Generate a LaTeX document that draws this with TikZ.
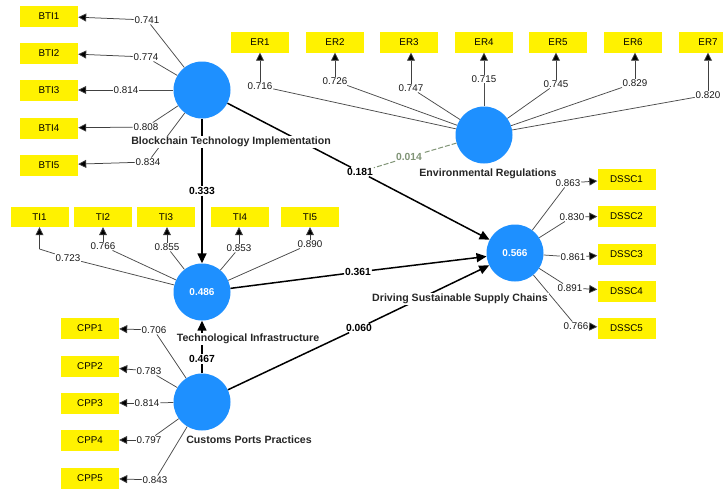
\documentclass[tikz,border=0pt]{standalone}
\usepackage{fontspec}
\setmainfont{Liberation Sans}
\usetikzlibrary{arrows.meta}
\definecolor{lvblue}{RGB}{30,144,255}
\definecolor{modgreen}{RGB}{128,148,118}
\begin{document}
\begin{tikzpicture}[x=1pt,y=-1pt,
 lv/.style={circle,fill=lvblue,minimum size=57pt,inner sep=0pt,font=\fontsize{10}{12}\selectfont\bfseries,text=white},
 ind/.style={fill=yellow,minimum width=58pt,minimum height=21pt,inner sep=0pt,font=\fontsize{9.8}{11}\selectfont},
 ld/.style={fill=white,inner sep=0.8pt,font=\fontsize{9.8}{11}\selectfont,text=black!90},
 pc/.style={fill=white,inner sep=0.8pt,font=\fontsize{10.3}{12}\selectfont\bfseries},
 lvname/.style={fill=white,inner sep=0.8pt,font=\fontsize{10.6}{12}\selectfont\bfseries,text=black!85},
 ll/.style={draw=black!70,line width=0.75pt},
 lla/.style={draw=black!75,line width=0.75pt,-{Triangle[length=8pt,width=8pt,fill=black]}},
 pl/.style={draw=black,line width=1.5pt},
 pla/.style={draw=black,line width=1.5pt,-{Triangle[length=10pt,width=9pt]}},
 ml/.style={draw=modgreen,line width=1pt,dash pattern=on 5pt off 2pt},
]
\useasboundingbox (0,0) rectangle (723,488);
\clip (0,0) rectangle (723,488);
\fill[white] (0,0) rectangle (723,488);

% latent variables
\node[lv] (bti) at (202,90) {};
\node[lv] (er) at (484,135) {};
\node[lv] (ti) at (202,292) {0.486};
\node[lv] (dssc) at (515,253) {0.566};
\node[lv] (cpp) at (202,402) {};

% BTI indicators
\node[ind] (bti1) at (49,16) {BTI1};
\node[ind] (bti2) at (49,53) {BTI2};
\node[ind] (bti3) at (49,90) {BTI3};
\node[ind] (bti4) at (49,128) {BTI4};
\node[ind] (bti5) at (49,165) {BTI5};
\node[ld] (lb1) at (147,20) {0.741};
\node[ld] (lb2) at (146,57) {0.774};
\node[ld] (lb3) at (126,90) {0.814};
\node[ld] (lb4) at (146,127) {0.808};
\node[ld] (lb5) at (148,162) {0.834};

% ER indicators
\node[ind] (er1) at (260,42) {ER1};
\node[ind] (er2) at (335,42) {ER2};
\node[ind] (er3) at (409,42) {ER3};
\node[ind] (er4) at (484,42) {ER4};
\node[ind] (er5) at (558,42) {ER5};
\node[ind] (er6) at (633,42) {ER6};
\node[ind] (er7) at (708,42) {ER7};
\node[ld] (le1) at (260,86) {0.716};
\node[ld] (le2) at (335,81) {0.726};
\node[ld] (le3) at (411,88) {0.747};
\node[ld] (le4) at (484,79) {0.715};
\node[ld] (le5) at (556,84) {0.745};
\node[ld] (le6) at (635,83) {0.829};
\node[ld] (le7) at (708,95) {0.820};

% TI indicators
\node[ind,minimum height=20pt] (ti1) at (39.5,217) {TI1};
\node[ind,minimum height=20pt] (ti2) at (103,217) {TI2};
\node[ind,minimum height=20pt] (ti3) at (166,217) {TI3};
\node[ind,minimum height=20pt] (ti4) at (240,217) {TI4};
\node[ind,minimum height=20pt] (ti5) at (310,217) {TI5};
\node[ld] (lt1) at (68,258) {0.723};
\node[ld] (lt2) at (103,246) {0.766};
\node[ld] (lt3) at (167,247) {0.855};
\node[ld] (lt4) at (239,248) {0.853};
\node[ld] (lt5) at (310,244) {0.890};
\coordinate (tc1) at (39.5,249);

% DSSC indicators
\node[ind] (ds1) at (626.5,179) {DSSC1};
\node[ind] (ds2) at (626.5,216) {DSSC2};
\node[ind] (ds3) at (626.5,254) {DSSC3};
\node[ind] (ds4) at (626.5,291) {DSSC4};
\node[ind] (ds5) at (626.5,328) {DSSC5};
\node[ld] (ld1) at (568,183) {0.863};
\node[ld] (ld2) at (572,217) {0.830};
\node[ld] (ld3) at (573,257) {0.861};
\node[ld] (ld4) at (570,288) {0.891};
\node[ld] (ld5) at (576,326) {0.766};

% CPP indicators
\node[ind] (cp1) at (90,328) {CPP1};
\node[ind] (cp2) at (90,366) {CPP2};
\node[ind] (cp3) at (90,403) {CPP3};
\node[ind] (cp4) at (90,440) {CPP4};
\node[ind] (cp5) at (90,478) {CPP5};
\node[ld] (lc1) at (154,330) {0.706};
\node[ld] (lc2) at (149,371) {0.783};
\node[ld] (lc3) at (147,403) {0.814};
\node[ld] (lc4) at (149,440) {0.797};
\node[ld] (lc5) at (155,480) {0.843};

% path coefficients
\node[pc] (p333) at (202,191) {0.333};
\node[pc] (p181) at (360,172) {0.181};
\node[pc] (p361) at (358,272) {0.361};
\node[pc] (p060) at (359,328) {0.060};
\node[pc] (p467) at (202,359) {0.467};
\node[pc,text=modgreen] (p014) at (409,157) {0.014};

% loading lines
\foreach \i in {1,...,5} {
  \draw[ll] (bti) -- (lb\i);
  \draw[lla] (lb\i) -- (bti\i);
  \draw[ll] (dssc) -- (ld\i);
  \draw[lla] (ld\i) -- (ds\i);
  \draw[ll] (cpp) -- (lc\i);
  \draw[lla] (lc\i) -- (cp\i);
  \draw[ll] (ti) -- (lt\i);
}
\foreach \i in {2,...,5} {
  \draw[lla] (lt\i) -- (lt\i |- ti\i.south);
}
\draw[ll] (lt1) -- (tc1);
\draw[lla] (tc1) -- (ti1.south);
\foreach \i in {1,...,7} {
  \draw[ll] (er) -- (le\i);
  \draw[lla] (le\i) -- (le\i |- er\i.south);
}

% structural paths
\draw[pl] (bti) -- (p333);
\draw[pla] (p333) -- (ti);
\draw[pl] (bti) -- (p181);
\draw[pla] (p181) -- (dssc);
\draw[pl] (ti) -- (p361);
\draw[pla] (p361) -- (dssc);
\draw[pl] (cpp) -- (p060);
\draw[pla] (p060) -- (dssc);
\draw[pl] (cpp) -- (p467);
\draw[pla] (p467) -- (ti);
\draw[ml] (er) -- (p014);
\draw[ml] (p014) -- (p181);

% latent variable names
\node[lvname] (nbti) at (231,142) {Blockchain Technology Implementation};
\node[lvname] (ner) at (488,174) {Environmental Regulations};
\node[lvname] (nti) at (248,339) {Technological Infrastructure};
\node[lvname] (ndssc) at (460,299) {Driving Sustainable Supply Chains};
\node[lvname] (ncpp) at (249,440) {Customs Ports Practices};
\end{tikzpicture}
\end{document}
